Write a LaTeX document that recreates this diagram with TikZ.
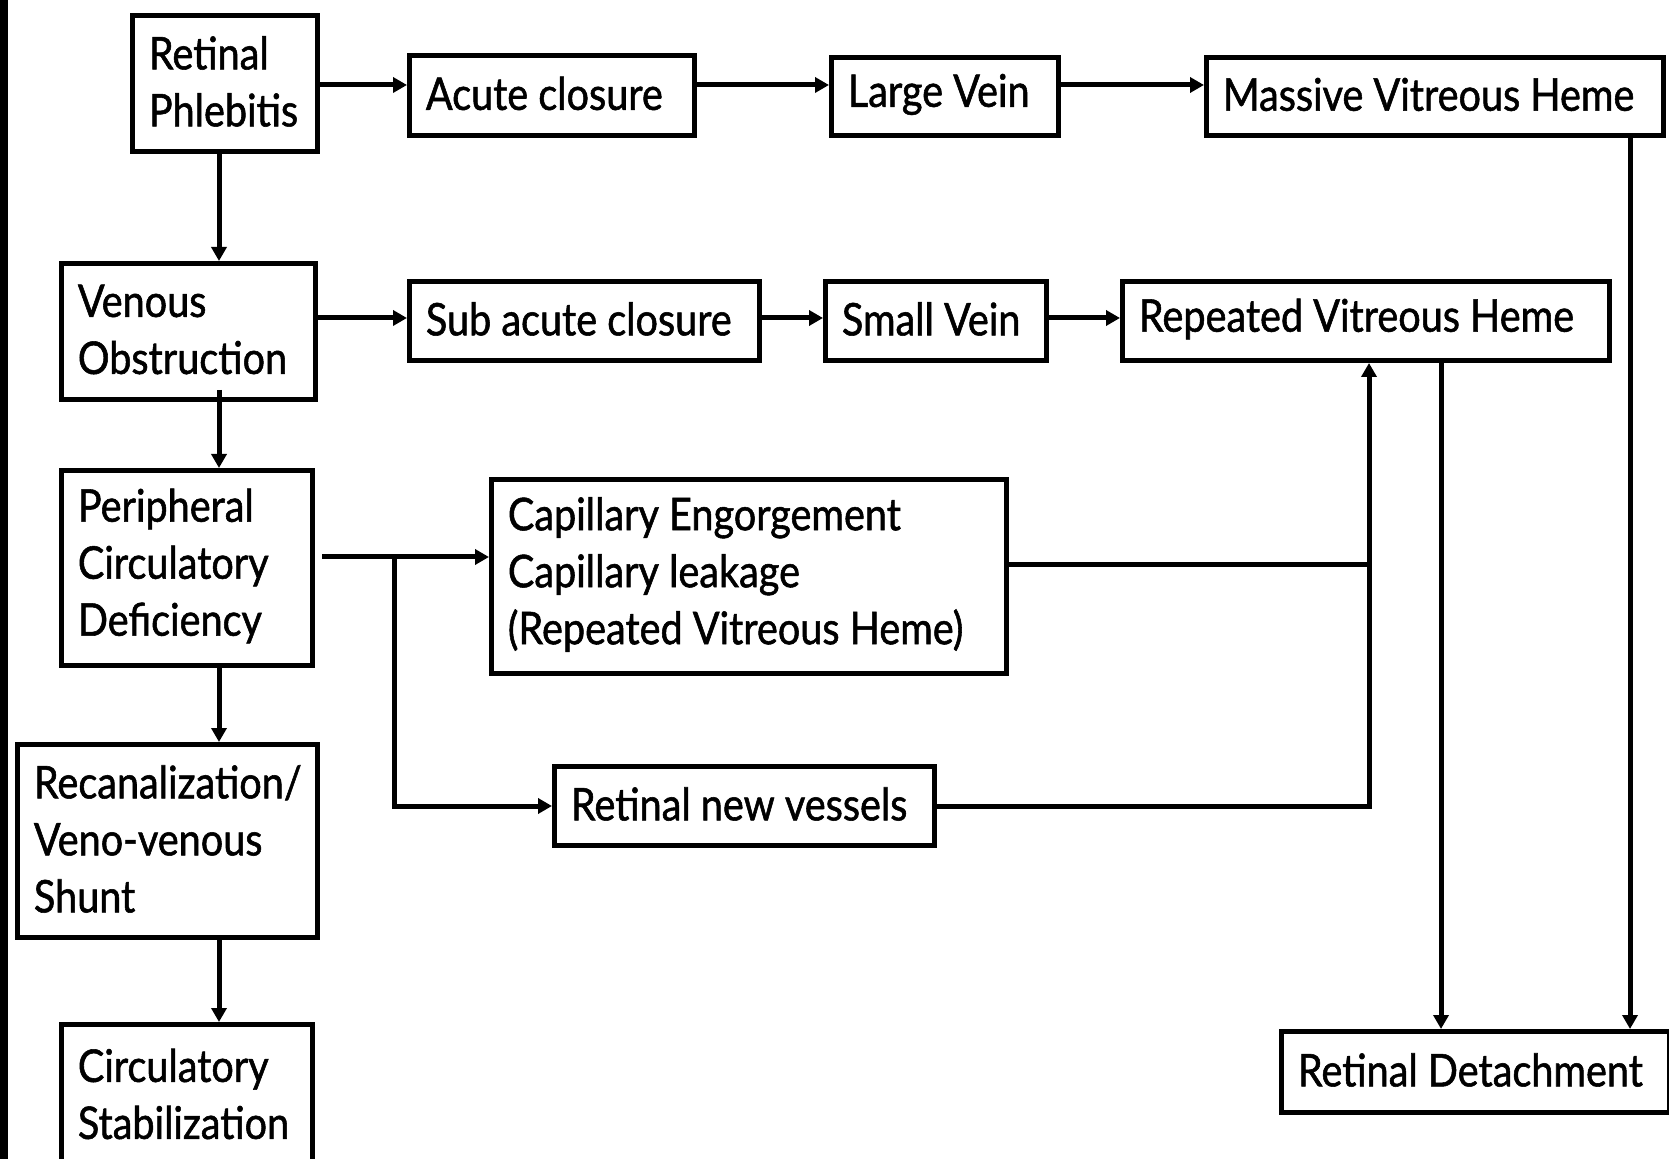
\documentclass[tikz,border=0pt]{standalone}
\usepackage{fontspec}
\setmainfont[FakeStretch=0.88,FakeBold=1.2]{Lato}
\usetikzlibrary{arrows.meta}
\tikzset{
  box/.style={draw=black, line width=2.5pt, anchor=north west, inner sep=0pt, fill=white},
  txt/.style={anchor=west, align=left, inner sep=0pt, font=\fontsize{22.5pt}{28.5pt}\selectfont},
  arr/.style={line width=2.5pt, -{Triangle[length=7pt,width=7.5pt]}},
  ln/.style={line width=2.5pt},
}
\newcommand\bx[6]{%
  \node[box, minimum width={(#4-#2-5)*0.5pt}, minimum height={(#5-#3-5)*0.5pt}] (#1) at (#2,#3) {};
  \node[txt] (#1t) at ([xshift=9.25pt,yshift=1pt]#1.west) {#6};
}
\begin{document}
\begin{tikzpicture}[x=0.5pt,y=-0.5pt]
\clip (0,0) rectangle (1669,1159);
\fill[white] (0,0) rectangle (1669,1159);
\fill[black] (0,0) rectangle (8,1159);
% boxes
\bx{RP}{130}{13}{320}{154}{Retinal\\Phlebitis}
\bx{AC}{407}{53}{697}{138}{Acute closure}
\bx{LV}{829}{55}{1061}{138}{Large Vein}
\bx{MVH}{1204}{55}{1666}{138}{Massive Vitreous Heme}
\bx{VO}{59}{261}{318}{402}{Venous\\Obstruction}
\bx{SAC}{407}{279}{762}{363}{Sub acute closure}
\bx{SV}{823}{279}{1049}{363}{Small Vein}
\bx{RVH}{1120}{279}{1612}{363}{Repeated Vitreous Heme}
\bx{PCD}{59}{468}{315}{668}{Peripheral\\Circulatory\\Deficiency}
\bx{CE}{489}{477}{1009}{676}{Capillary Engorgement\\Capillary leakage\\(Repeated Vitreous Heme)}
\bx{RNV}{552}{764}{937}{848}{Retinal new vessels}
\bx{RVS}{15}{742}{320}{940}{Recanalization/\\Veno-venous\\Shunt}
\bx{CS}{59}{1022}{315}{1170}{Circulatory\\Stabilization}
\bx{RD}{1279}{1029}{1672}{1115}{Retinal Detachment}
% helper coordinates
\coordinate (ax) at (219,0);
\coordinate (r1) at (0,85);
\coordinate (r2) at (0,318);
\coordinate (p1) at (322,557);
\coordinate (br) at (394,557);
\coordinate (jx) at (1369,0);
\coordinate (jy) at (0,565);
\coordinate (mx) at (1630,0);
\coordinate (rx) at (1441,0);
% row 1
\draw[arr] (RP.east |- r1) -- (AC.west |- r1);
\draw[arr] (AC.east |- r1) -- (LV.west |- r1);
\draw[arr] (LV.east |- r1) -- (MVH.west |- r1);
% row 2
\draw[arr] (VO.east |- r2) -- (SAC.west |- r2);
\draw[arr] (SAC.east |- r2) -- (SV.west |- r2);
\draw[arr] (SV.east |- r2) -- (RVH.west |- r2);
% left column
\draw[arr] (ax |- RP.south) -- (ax |- VO.north);
\draw[arr] ([yshift=6pt]ax |- VO.south) -- (ax |- PCD.north);
\draw[arr] (ax |- PCD.south) -- (ax |- RVS.north);
\draw[arr] (ax |- RVS.south) -- (ax |- CS.north);
% middle
\draw[arr] (p1) -- (CE.west |- p1);
\draw[arr, line join=miter] (br) |- (RNV.west);
\draw[ln] (CE.east |- jy) -- (jx |- jy);
\draw[arr, line join=miter] (RNV.east) -| (jx |- RVH.south);
% right
\draw[arr] (mx |- MVH.south) -- (mx |- RD.north);
\draw[arr] (rx |- RVH.south) -- (rx |- RD.north);
\end{tikzpicture}
\end{document}
